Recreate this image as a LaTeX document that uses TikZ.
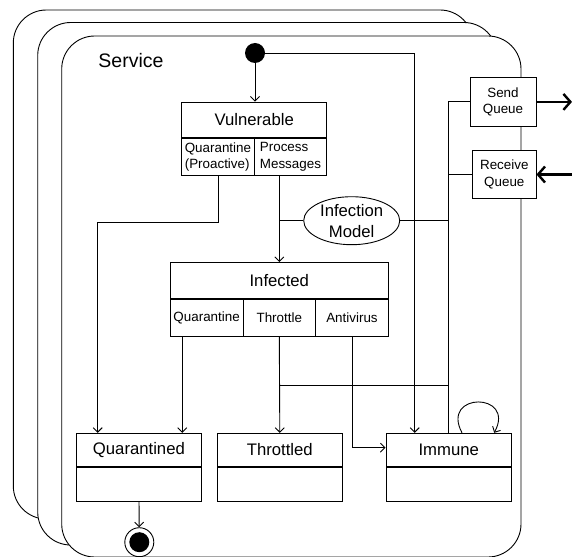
\documentclass[tikz,border=0pt]{standalone}
\usepackage{fontspec}
\setmainfont{Liberation Sans}
\usetikzlibrary{arrows.meta, positioning, shapes.geometric, calc}
\newcommand{\statefont}{\fontsize{16.7}{20.7}\selectfont}
\newcommand{\compfont}{\fontsize{13.4}{16.3}\selectfont}
\newcommand{\servicefont}{\fontsize{19.5}{23}\selectfont}
\tikzset{
  frame/.style={draw, fill=white, rounded corners=33pt},
  statehead/.style={draw, fill=white, rectangle, minimum width=125.5pt, minimum height=33.5pt, inner sep=0pt, font=\statefont},
  statebody/.style={draw, fill=white, rectangle, minimum width=125.5pt, minimum height=34pt, inner sep=0pt},
  comp/.style={draw, fill=white, rectangle, minimum height=36.4pt, inner sep=1pt, font=\compfont, align=left},
  queuebox/.style={draw, fill=white, rectangle, minimum height=48.5pt, inner sep=1pt, font=\compfont, align=center},
  flow/.style={line width=2.4pt, -{Straight Barb[length=7pt,width=16pt]}}
}

\begin{document}
\begin{tikzpicture}[x=1pt, y=-1pt, line width=0.9pt, >={Straight Barb[length=4.5pt,width=9pt]}]
\useasboundingbox (0,0) rectangle (572,556);
% ===== stacked service frames =====
\draw[frame] (13.3,10) rectangle (473,519);
\draw[frame] (37.7,22.5) rectangle (497,545);
\draw[frame] (61.7,36) rectangle (521,557);
\node[font=\servicefont] (service) at (131,61) {Service};
% ===== initial state and Vulnerable =====
\node[circle, fill=black, minimum size=20pt, inner sep=0pt] (init) at (255,53) {};
\node[statehead, minimum width=145pt, minimum height=35.7pt] (vuln) at (254.2,119.9) {Vulnerable};
\node[comp, minimum width=72.5pt, anchor=north west] (vulnq) at (vuln.south west) {Quarantine\\(Proactive)};
\node[comp, minimum width=72.5pt, anchor=north east] (vulnp) at (vuln.south east) {Process\\Messages};
% infection model
\node[ellipse, draw, fill=white, minimum width=96pt, minimum height=48pt, inner sep=-2pt, font=\statefont, align=center] (model) at (351.7,220.7) {Infection\\Model};
% ===== Infected with its three actions =====
\node[statehead, minimum width=218pt, minimum height=36.2pt] (inf) at (279.3,280.6) {Infected};
\node[comp, minimum width=72.67pt, anchor=north west] (infq) at (inf.south west) {Quarantine};
\node[comp, minimum width=72.67pt, anchor=north] (inft) at (inf.south) {Throttle};
\node[comp, minimum width=72.67pt, anchor=north east] (infa) at (inf.south east) {Antivirus};
% ===== end states =====
\node[statehead] (quar) at (138.9,450) {Quarantined};
\node[statebody, below=0pt of quar] (quarb) {};
\node[statehead] (thr) at (279.8,450) {Throttled};
\node[statebody, below=0pt of thr] (thrb) {};
\node[statehead] (imm) at (448.7,450) {Immune};
\node[statebody, below=0pt of imm] (immb) {};
\node[circle, draw, minimum size=29pt, inner sep=0pt,
  path picture={\fill (path picture bounding box.center) circle (10pt);}] (final) at (139.3,542.2) {};
% ===== message queues =====
\node[queuebox, minimum width=66pt] (sendq) at (503,101.9) {Send\\Queue};
\node[queuebox, minimum width=63.3pt] (recvq) at (504.3,174.5) {Receive\\Queue};
\coordinate (sendout) at (572,101.9);
\coordinate (recvin) at (572,174.5);
\coordinate (qbend) at (97.7,222.5);
\coordinate (tjoin) at (279.3,385.5);
% ===== transitions =====
\draw[->] (init) -- (init |- vuln.north);
\draw[->] (init.east) -| ([xshift=-34pt]imm.north);
\draw[->] (vulnq.south) |- (qbend) -- (qbend |- quar.north);
\draw[->] (inf.north |- vulnp.south) -- (inf.north);
\draw (model.west) -- (model.west -| inf.north);
\draw (model.east) -- (model.east -| imm.north);
% bus to the queues
\draw (sendq.west) -- (sendq.west -| imm.north) -- (imm.north);
\draw (recvq.west) -- (recvq.west -| imm.north);
\draw[->] ([xshift=-24.4pt]infq.south) -- ([xshift=-24.4pt]infq.south |- quar.north);
\draw[->] (inft.south) -- (thr.north);
\draw (tjoin) -- (tjoin -| imm.north);
\draw[->] (infa.south) |- ([yshift=2.3pt]imm.west);
\draw[->] ([xshift=13.3pt]imm.north) .. controls +(-22,-41) and +(22,-41) .. ([xshift=45.5pt]imm.north);
\draw[->] (quarb) -- (final);
% in and out of the service
\draw[flow] (sendq.east) -- (sendout);
\draw[flow] (recvin) -- (recvq.east);
\end{tikzpicture}
\end{document}
